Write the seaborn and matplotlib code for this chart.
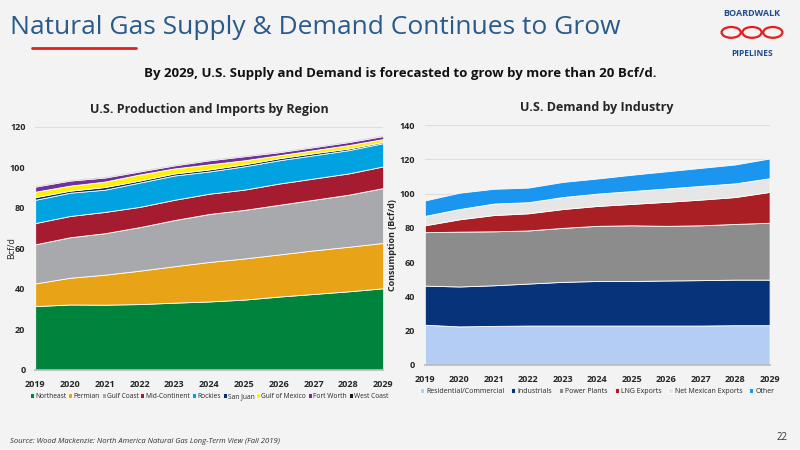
import numpy as np
import seaborn as sns
import matplotlib.pyplot as plt
from matplotlib.patches import Circle

sns.set_theme(style="white")
plt.rcParams['font.family'] = ['Open Sans', 'DejaVu Sans']

years = list(range(2019, 2030))

# supply: cumulative top of each band (Bcf/d)
supply_names = ["Northeast", "Permian", "Gulf Coast", "Mid-Continent", "Rockies",
                "San Juan", "Gulf of Mexico", "Fort Worth", "West Coast"]
northeast = [31.5, 32.3, 32.2, 32.5, 33.2, 33.8, 34.7, 36.2, 37.5, 38.8, 40.3]
permian = [42.7, 45.5, 47, 49, 51.2, 53.3, 55, 57, 59, 60.8, 62.7]
gulf_coast = [62, 65.5, 67.5, 70.5, 74, 77, 79, 81.5, 84, 86.5, 89.8]
mid_continent = [72.5, 76, 78, 80.5, 84, 87, 89, 92, 94.5, 97, 100.5]
rockies = [84, 87.5, 89, 92.5, 96, 98, 100.5, 103.5, 106, 108.5, 112]
san_juan = [85.3, 88.5, 90.3, 93.5, 97, 99, 101.5, 104.5, 107, 109.3, 112.6]
gulf_mexico = [88, 91, 93, 96.5, 99.5, 101.5, 103.5, 106, 108.5, 111, 114]
fort_worth = [90.5, 93.5, 95, 98, 101, 103.5, 105.5, 107.5, 110, 112.5, 115.5]
west_coast = [91, 94, 95.5, 98.5, 101.5, 104, 106, 108, 110.5, 113, 116]
supply_tops = [northeast, permian, gulf_coast, mid_continent, rockies,
               san_juan, gulf_mexico, fort_worth, west_coast]
supply_colors = ["#00843d", "#e8a317", "#a7a9ac", "#a51c30", "#00a3e0",
                 "#002f6c", "#fff200", "#7030a0", "#1a1a1a"]

# demand: cumulative top of each band
demand_names = ["Residential/Commercial", "Industrials", "Power Plants",
                "LNG Exports", "Net Mexican Exports", "Other"]
residential = [23.5, 22.5, 22.8, 23, 23, 23, 23, 23, 23, 23.2, 23.2]
industrials = [46.3, 45.8, 46.5, 47.5, 48.5, 49, 49, 49.3, 49.5, 49.8, 49.8]
power = [77.5, 77.8, 78, 78.5, 80, 81.2, 81.5, 81.2, 81.5, 82.3, 83]
lng = [81.5, 85, 87.5, 88.5, 91, 92.8, 94, 95.2, 96.5, 98, 101]
mexico = [87, 91, 94.2, 95, 98, 100, 101.5, 103, 104.5, 106, 109]
other = [96, 100.5, 102.8, 103.5, 106.8, 108.8, 111, 113, 115, 117, 120.5]
demand_tops = [residential, industrials, power, lng, mexico, other]
demand_colors = ["#b4cdf5", "#06337a", "#8c8c8c", "#a91f24", "#e6e6e6", "#1a96f0"]

fig = plt.figure(figsize=(8, 4.5), dpi=100)
fig.patch.set_facecolor("#f3f3f3")


def stacked(ax, tops, colors, names):
    low = np.zeros(len(years))
    for top, c, n in zip(tops, colors, names):
        ax.fill_between(years, low, top, color=c, label=n, edgecolor="white",
                        linewidth=0.6)
        low = np.array(top)
    ax.set_facecolor("none")
    ax.set_xlim(2019, 2029)
    ax.set_xticks(years)
    ax.tick_params(labelsize=6.5, pad=1)
    for lbl in ax.get_xticklabels() + ax.get_yticklabels():
        lbl.set_fontweight("bold")
    sns.despine(ax=ax, left=True)
    ax.spines["bottom"].set_color("#bbbbbb")


ax1 = fig.add_axes([0.044, 0.178, 0.435, 0.54])
stacked(ax1, supply_tops, supply_colors, supply_names)
ax1.set_ylim(0, 120)
ax1.set_yticks(range(0, 121, 20))
ax1.axhline(120, color="#dddddd", lw=0.8)
ax1.set_ylabel("Bcf/d", fontsize=6.5, labelpad=1)
ax1.yaxis.set_label_coords(-0.055, 0.5)
ax1.set_title("U.S. Production and Imports by Region", fontsize=9,
              fontweight="bold", pad=10)
ax1.legend(loc="upper center", bbox_to_anchor=(0.5, -0.07), ncol=9,
           frameon=False, fontsize=4.8, handlelength=0.6, handleheight=0.6,
           columnspacing=0.3, handletextpad=0.15, edgecolor="none")

ax2 = fig.add_axes([0.531, 0.189, 0.431, 0.533])
stacked(ax2, demand_tops, demand_colors, demand_names)
ax2.set_ylim(0, 140)
ax2.set_yticks(range(0, 141, 20))
ax2.yaxis.grid(True, color="#dddddd", lw=0.8)
ax2.set_axisbelow(True)
ax2.set_ylabel("Consumption (Bcf/d)", fontsize=6.5, fontweight="bold", labelpad=2)
ax2.set_title("U.S. Demand by Industry", fontsize=9, fontweight="bold", pad=10)
ax2.legend(loc="upper center", bbox_to_anchor=(0.5, -0.07), ncol=6,
           frameon=False, fontsize=5, handlelength=0.6, handleheight=0.6,
           columnspacing=1.0, handletextpad=0.3)

fig.text(0.012, 0.925, "Natural Gas Supply & Demand Continues to Grow",
         fontsize=19, color="#2a5a8c")
fig.add_artist(plt.Line2D([0.04, 0.17], [0.893, 0.893], color="#e02020", lw=2))
fig.text(0.5, 0.83, "By 2029, U.S. Supply and Demand is forecasted to grow by more than 20 Bcf/d.",
         fontsize=9.5, fontweight="bold", ha="center", color="#111111")
fig.text(0.012, 0.015, "Source: Wood Mackenzie: North America Natural Gas Long-Term View (Fall 2019)",
         fontsize=5.5, style="italic", color="#333333")
fig.text(0.985, 0.022, "22", fontsize=7, ha="right", color="#333333")

# logo
fig.text(0.94, 0.965, "BOARDWALK", fontsize=6.5, fontweight="bold",
         color="#1f4e8c", ha="center")
fig.text(0.94, 0.875, "PIPELINES", fontsize=6, fontweight="bold",
         color="#1f4e8c", ha="center")
for cx in (0.914, 0.94, 0.966):
    fig.add_artist(Circle((cx, 0.928), 0.012, transform=fig.transFigure,
                          fill=False, edgecolor="#e02020", lw=1.6))

fig.savefig("out.png", dpi=100, facecolor=fig.get_facecolor())
